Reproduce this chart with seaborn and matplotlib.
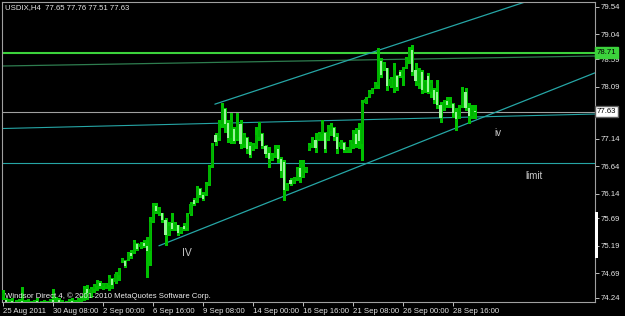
import matplotlib
matplotlib.use("Agg")
import matplotlib.pyplot as plt
import seaborn as sns
import pandas as pd
from matplotlib.patches import Rectangle
from matplotlib.transforms import blended_transform_factory

# ---------------- data (USDIX, H4) ----------------
opens = [74.26, 74.20, 74.16, 74.19, 74.15, 74.13, 74.18, 74.14, 74.17, 74.12,
         74.15, 74.18, 74.13, 74.16, 74.12, 74.15, 74.20, 74.16, 74.20, 74.17,
         74.14, 74.16, 74.19, 74.15, 74.18, 74.21, 74.28, 74.40, 74.33, 74.40,
         74.46, 74.52, 74.45, 74.44, 74.47, 74.58, 74.53, 74.65, 74.91, 74.92,
         74.95, 75.06, 75.08, 75.22, 75.16, 75.24, 75.19, 75.10, 75.64, 75.92,
         75.80, 75.78, 75.66, 75.41, 75.60, 75.50, 75.56, 75.44, 75.55, 75.51,
         75.76, 76.02, 76.00, 76.22, 76.12, 76.14, 76.32, 76.66, 77.20, 77.15,
         77.40, 77.68, 77.42, 77.15, 77.32, 77.14, 77.40, 77.05, 77.15, 77.00,
         76.95, 77.00, 77.18, 77.22, 77.00, 76.88, 76.78, 76.85, 76.96, 76.78,
         76.72, 76.22, 76.38, 76.34, 76.42, 76.60, 76.46, 76.56, 76.95, 77.02,
         77.12, 77.14, 77.22, 77.24, 77.14, 77.28, 77.34, 77.18, 76.99, 77.06,
         76.92, 76.96, 77.05, 77.22, 77.30, 77.05, 77.80, 77.91, 77.98, 78.07,
         78.12, 78.55, 78.40, 78.42, 78.10, 78.05, 78.28, 78.36, 78.28, 78.45,
         78.58, 78.75, 78.40, 78.15, 78.36, 78.02, 78.28, 78.00, 78.03, 78.00,
         77.75, 77.68, 77.82, 77.75, 77.78, 77.62, 77.55, 77.74, 78.00, 77.70,
         77.55, 77.65]
highs = [74.39, 74.24, 74.22, 74.24, 74.21, 74.22, 74.44, 74.20, 74.22, 74.18,
         74.21, 74.23, 74.19, 74.21, 74.18, 74.22, 74.40, 74.25, 74.24, 74.21,
         74.19, 74.22, 74.24, 74.21, 74.24, 74.27, 74.46, 74.48, 74.44, 74.50,
         74.57, 74.55, 74.52, 74.51, 74.66, 74.60, 74.71, 74.79, 74.97, 74.93,
         75.08, 75.11, 75.30, 75.24, 75.26, 75.30, 75.35, 75.71, 75.97, 75.97,
         75.90, 75.79, 75.70, 75.62, 75.79, 75.62, 75.57, 75.53, 75.61, 75.79,
         75.99, 76.06, 76.28, 76.24, 76.17, 76.35, 76.66, 77.06, 77.24, 77.48,
         77.79, 77.70, 77.48, 77.61, 77.35, 77.61, 77.48, 77.24, 77.17, 77.08,
         77.06, 77.35, 77.45, 77.24, 77.03, 76.99, 76.88, 77.03, 77.03, 76.81,
         76.75, 76.33, 76.42, 76.44, 76.63, 76.75, 76.75, 76.63, 77.06, 77.17,
         77.24, 77.26, 77.48, 77.26, 77.39, 77.43, 77.35, 77.24, 77.12, 77.08,
         76.99, 77.12, 77.30, 77.34, 77.43, 77.85, 77.90, 78.03, 78.06, 78.17,
         78.79, 78.61, 78.54, 78.43, 78.26, 78.52, 78.30, 78.39, 78.45, 78.63,
         78.81, 78.85, 78.52, 78.43, 78.39, 78.21, 78.34, 78.21, 78.06, 78.21,
         77.81, 77.85, 77.90, 77.90, 77.79, 77.70, 77.75, 78.08, 78.06, 77.79,
         77.75, 77.76]
lows = [74.22, 74.12, 74.10, 74.11, 74.09, 74.08, 74.10, 74.08, 74.09, 74.07,
        74.09, 74.10, 74.08, 74.09, 74.07, 74.10, 74.11, 74.10, 74.12, 74.10,
        74.09, 74.11, 74.12, 74.11, 74.12, 74.14, 74.20, 74.22, 74.26, 74.34,
        74.38, 74.42, 74.40, 74.42, 74.39, 74.42, 74.51, 74.57, 74.90, 74.80,
        74.93, 74.97, 75.06, 75.11, 75.15, 75.17, 74.62, 74.84, 75.62, 75.79,
        75.75, 75.62, 75.20, 75.39, 75.48, 75.48, 75.39, 75.42, 75.48, 75.48,
        75.75, 75.93, 75.99, 76.08, 76.02, 76.12, 76.30, 76.63, 77.03, 77.12,
        77.35, 77.26, 77.08, 77.06, 77.06, 77.12, 76.97, 76.99, 76.88, 76.81,
        76.93, 76.97, 77.12, 76.97, 76.81, 76.63, 76.75, 76.81, 76.72, 76.44,
        76.02, 76.21, 76.30, 76.33, 76.39, 76.35, 76.44, 76.53, 76.93, 76.99,
        76.90, 77.12, 77.12, 76.90, 77.12, 77.21, 77.12, 76.88, 76.97, 76.90,
        76.90, 76.90, 76.97, 76.99, 76.97, 76.75, 77.79, 77.90, 77.97, 78.06,
        78.06, 78.26, 78.39, 78.03, 78.08, 77.99, 78.03, 78.26, 78.12, 78.43,
        78.52, 78.30, 78.12, 78.06, 77.97, 77.99, 77.97, 77.90, 77.79, 77.70,
        77.45, 77.66, 77.72, 77.72, 77.54, 77.30, 77.52, 77.72, 77.66, 77.43,
        77.52, 77.51]
closes = [74.33, 74.16, 74.19, 74.15, 74.13, 74.18, 74.14, 74.17, 74.12, 74.15,
          74.18, 74.13, 74.16, 74.12, 74.15, 74.20, 74.16, 74.20, 74.17, 74.14,
          74.16, 74.19, 74.15, 74.18, 74.21, 74.24, 74.40, 74.33, 74.40, 74.46,
          74.52, 74.45, 74.49, 74.50, 74.60, 74.48, 74.67, 74.75, 74.95, 74.83,
          75.05, 75.00, 75.25, 75.14, 75.23, 75.19, 75.10, 75.62, 75.90, 75.82,
          75.86, 75.66, 75.39, 75.55, 75.50, 75.58, 75.42, 75.51, 75.50, 75.72,
          75.95, 75.96, 76.24, 76.12, 76.05, 76.32, 76.62, 77.00, 77.08, 77.42,
          77.70, 77.40, 77.15, 77.45, 77.10, 77.40, 77.05, 77.20, 76.95, 76.85,
          77.02, 77.20, 77.30, 77.00, 76.86, 76.78, 76.85, 76.96, 76.78, 76.55,
          76.20, 76.30, 76.32, 76.42, 76.58, 76.45, 76.62, 76.60, 77.03, 77.12,
          76.98, 77.22, 77.40, 76.96, 77.32, 77.38, 77.18, 76.95, 77.08, 76.94,
          76.97, 77.08, 77.22, 77.05, 77.10, 77.80, 77.87, 77.99, 78.04, 78.14,
          78.55, 78.30, 78.50, 78.10, 78.22, 78.40, 78.08, 78.28, 78.40, 78.60,
          78.75, 78.36, 78.20, 78.38, 78.02, 78.18, 78.00, 78.15, 77.85, 77.75,
          77.52, 77.80, 77.75, 77.85, 77.60, 77.50, 77.70, 78.02, 77.70, 77.55,
          77.66, 77.63]

time_tick_bars = [0, 16, 32, 48, 64, 80, 96, 112, 128, 144]
time_tick_labels = ["25 Aug 2011", "30 Aug 08:00", "2 Sep 00:00", "6 Sep 16:00",
                    "9 Sep 08:00", "14 Sep 00:00", "16 Sep 16:00", "21 Sep 08:00",
                    "26 Sep 00:00", "28 Sep 16:00"]
price_ticks = [79.54, 79.04, 78.59, 78.09, 77.14, 76.64, 76.14, 75.69, 75.19, 74.69, 74.24]

bid_price = 77.63
limit_level = 78.71
teal_level = 76.69
# trend lines: (bar_start, price_start, bar_end, price_end)
dark_green_trend = (-0.3, 78.465, 189.4, 78.647)
teal_trend = (-0.3, 77.326, 189.4, 77.59)
channel_lower = (49.9, 75.19, 189.4, 78.34)
channel_upper = (67.8, 77.77, 189.4, 80.05)

# ---------------- styling ----------------
sns.set_theme(style="dark", rc={"axes.facecolor": "black", "figure.facecolor": "black"})
plt.rcParams["font.family"] = ["Liberation Sans", "DejaVu Sans"]

W, H = 625, 316
fig = plt.figure(figsize=(W / 100, H / 100), dpi=100)
ax_l, ax_r, ax_t, ax_b = 2, 595, 2, 302
ax = fig.add_axes([ax_l / W, 1 - ax_b / H, (ax_r - ax_l) / W, (ax_b - ax_t) / H])
ax.set_facecolor("black")

df = pd.DataFrame({"bar": range(len(opens)), "open": opens, "high": highs,
                   "low": lows, "close": closes})
df["bull"] = df["close"] >= df["open"]

wick_col = "#00c000"
bull_col = "#00b000"
bear_col = "#98f598"

ax.vlines(df["bar"], df["low"], df["high"], colors=wick_col, linewidth=0.75,
          antialiased=False, zorder=3)
body_bottom = df[["open", "close"]].min(axis=1)
body_height = (df["close"] - df["open"]).abs().clip(lower=0.012)
ax.bar(df["bar"], body_height, bottom=body_bottom, width=0.7,
       color=[bull_col if b else bear_col for b in df["bull"]],
       edgecolor="none", linewidth=0, antialiased=False, zorder=4)

# horizontal / trend lines drawn via seaborn
def seg(spec, color, lw, z=2):
    d = pd.DataFrame({"x": [spec[0], spec[2]], "y": [spec[1], spec[3]]})
    sns.lineplot(data=d, x="x", y="y", ax=ax, color=color, linewidth=lw,
                 zorder=z, legend=False)

seg((-1, limit_level, 200, limit_level), "#3cd23c", 1.5, 2)
seg(dark_green_trend, "#2e7d4f", 0.9)
seg((-1, bid_price, 200, bid_price), "#a0a0a0", 0.8)
seg(teal_trend, "#26a6a6", 0.8)
seg((-1, teal_level, 200, teal_level), "#26a6a6", 0.8)
seg(channel_lower, "#26a6a6", 0.9)
seg(channel_upper, "#26a6a6", 0.9)

# axes limits in pixel-aligned price/bar coordinates
ax.set_xlim(-0.32, 189.44)
ax.set_ylim(74.166, 79.631)
ax.set_xlabel("")
ax.set_ylabel("")

# ticks
ax.set_xticks(time_tick_bars)
ax.set_xticklabels(time_tick_labels, ha="left")
ax.yaxis.tick_right()
ax.set_yticks(price_ticks)
ax.set_yticklabels([f"{p:.2f}" for p in price_ticks])
ax.tick_params(axis="x", colors="#c0c0c0", length=3, width=0.7, pad=1,
               labelsize=5.6, labelcolor="#e6e6e6", direction="out", bottom=True)
ax.tick_params(axis="y", colors="#c0c0c0", length=3, width=0.7, pad=1,
               labelsize=5.6, labelcolor="#e6e6e6", direction="out", right=True, left=False)
ax.grid(False)
for side, sp in ax.spines.items():
    sp.set_visible(True)
    sp.set_color("#a0a0a0")
    sp.set_linewidth(0.8)

# price boxes on right axis
tr = blended_transform_factory(ax.transAxes, ax.transData)
ax.text(1.003, limit_level, "78.71", transform=tr, fontsize=5.6, color="black",
        va="center", ha="left", zorder=10, clip_on=False,
        bbox=dict(boxstyle="square,pad=0.25", facecolor="#3cd23c", edgecolor="#3cd23c"))
ax.text(1.003, bid_price, "77.63", transform=tr, fontsize=5.6, color="black",
        va="center", ha="left", zorder=10, clip_on=False,
        bbox=dict(boxstyle="square,pad=0.25", facecolor="white", edgecolor="#606060"))

# annotations
def ftxt(x, y, s, **kw):
    fig.text(x / W, 1 - y / H, s, **kw)

ftxt(5, 8, "USDIX,H4  77.65 77.76 77.51 77.63", fontsize=5.6, color="#e6e6e6", va="center")
ftxt(5, 296, "Windsor Direct 4, \u00a9 2001-2010 MetaQuotes Software Corp.",
     fontsize=5.6, color="#f0f0f0", va="center")
ftxt(182, 253, "IV", fontsize=7.5, color="#c8c8c8", va="center")
ftxt(494, 133, "iv", fontsize=7, color="#c8c8c8", va="center")
ftxt(525, 176, "limit", fontsize=7, color="#c8c8c8", va="center")

# white marker on right scale
fig.patches.append(Rectangle((595 / W, 1 - 258 / H), 2.5 / W, 46 / H,
                             transform=fig.transFigure, facecolor="white",
                             edgecolor="none", zorder=10))

fig.savefig("out.png", dpi=100, facecolor="black")
